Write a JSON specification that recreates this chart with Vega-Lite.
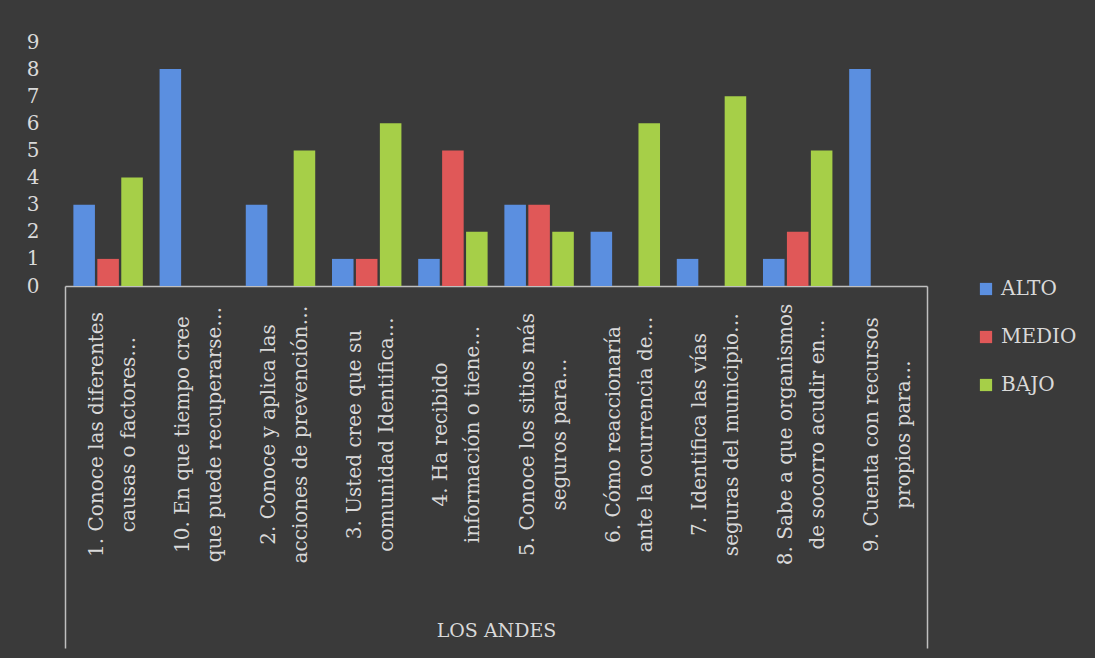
{
  "$schema": "https://vega.github.io/schema/vega-lite/v6.json",
  "autosize": {"type": "none"},
  "width": 862,
  "height": 244,
  "padding": {"left": 65, "top": 42, "right": 168, "bottom": 372},
  "background": "#3a3a3a",
  "config": {
    "view": {"stroke": null},
    "font": "DejaVu Serif"
  },
  "data": {
    "values": [
      {"pregunta": "1. Conoce las diferentes\ncausas o factores…", "nivel": "ALTO", "valor": 3},
      {"pregunta": "1. Conoce las diferentes\ncausas o factores…", "nivel": "MEDIO", "valor": 1},
      {"pregunta": "1. Conoce las diferentes\ncausas o factores…", "nivel": "BAJO", "valor": 4},
      {"pregunta": "10. En que tiempo cree\nque puede recuperarse…", "nivel": "ALTO", "valor": 8},
      {"pregunta": "10. En que tiempo cree\nque puede recuperarse…", "nivel": "MEDIO", "valor": 0},
      {"pregunta": "10. En que tiempo cree\nque puede recuperarse…", "nivel": "BAJO", "valor": 0},
      {"pregunta": "2. Conoce y aplica las\nacciones de prevención…", "nivel": "ALTO", "valor": 3},
      {"pregunta": "2. Conoce y aplica las\nacciones de prevención…", "nivel": "MEDIO", "valor": 0},
      {"pregunta": "2. Conoce y aplica las\nacciones de prevención…", "nivel": "BAJO", "valor": 5},
      {"pregunta": "3. Usted cree que su\ncomunidad Identifica…", "nivel": "ALTO", "valor": 1},
      {"pregunta": "3. Usted cree que su\ncomunidad Identifica…", "nivel": "MEDIO", "valor": 1},
      {"pregunta": "3. Usted cree que su\ncomunidad Identifica…", "nivel": "BAJO", "valor": 6},
      {"pregunta": "4. Ha recibido\ninformación o tiene…", "nivel": "ALTO", "valor": 1},
      {"pregunta": "4. Ha recibido\ninformación o tiene…", "nivel": "MEDIO", "valor": 5},
      {"pregunta": "4. Ha recibido\ninformación o tiene…", "nivel": "BAJO", "valor": 2},
      {"pregunta": "5. Conoce los sitios más\nseguros  para…", "nivel": "ALTO", "valor": 3},
      {"pregunta": "5. Conoce los sitios más\nseguros  para…", "nivel": "MEDIO", "valor": 3},
      {"pregunta": "5. Conoce los sitios más\nseguros  para…", "nivel": "BAJO", "valor": 2},
      {"pregunta": "6. Cómo reaccionaría\nante la ocurrencia de…", "nivel": "ALTO", "valor": 2},
      {"pregunta": "6. Cómo reaccionaría\nante la ocurrencia de…", "nivel": "MEDIO", "valor": 0},
      {"pregunta": "6. Cómo reaccionaría\nante la ocurrencia de…", "nivel": "BAJO", "valor": 6},
      {"pregunta": "7. Identifica las vías\nseguras del municipio…", "nivel": "ALTO", "valor": 1},
      {"pregunta": "7. Identifica las vías\nseguras del municipio…", "nivel": "MEDIO", "valor": 0},
      {"pregunta": "7. Identifica las vías\nseguras del municipio…", "nivel": "BAJO", "valor": 7},
      {"pregunta": "8. Sabe a que organismos\nde socorro acudir en…", "nivel": "ALTO", "valor": 1},
      {"pregunta": "8. Sabe a que organismos\nde socorro acudir en…", "nivel": "MEDIO", "valor": 2},
      {"pregunta": "8. Sabe a que organismos\nde socorro acudir en…", "nivel": "BAJO", "valor": 5},
      {"pregunta": "9. Cuenta con recursos\npropios para…", "nivel": "ALTO", "valor": 8},
      {"pregunta": "9. Cuenta con recursos\npropios para…", "nivel": "MEDIO", "valor": 0},
      {"pregunta": "9. Cuenta con recursos\npropios para…", "nivel": "BAJO", "valor": 0}
    ]
  },
  "mark": {"type": "bar"},
  "encoding": {
    "x": {
      "field": "pregunta",
      "type": "nominal",
      "sort": null,
      "scale": {"paddingInner": 0, "paddingOuter": 0},
      "axis": {
        "title": "LOS ANDES",
        "titleFont": "DejaVu Serif",
        "titleFontSize": 19,
        "titleFontWeight": "normal",
        "titleColor": "#d9d9d9",
        "titleY": 344,
        "titleBaseline": "middle",
        "labelExpr": "split(datum.label, '\\n')",
        "labelAngle": -90,
        "labelAlign": "center",
        "labelBaseline": "middle",
        "labelPadding": -214,
        "labelOffset": -12,
        "labelLineHeight": 32,
        "labelFontSize": 20,
        "labelColor": "#d9d9d9",
        "labelLimit": 400,
        "labelOverlap": false,
        "domainColor": "#bfbfbf",
        "domainWidth": 1.5,
        "tickBand": "extent",
        "tickSize": 362,
        "tickWidth": 1.5,
        "tickColor": "#bfbfbf",
        "tickOpacity": {"condition": {"test": "datum.index === 1 || datum.index === -1", "value": 1}, "value": 0}
      }
    },
    "xOffset": {
      "field": "nivel",
      "type": "nominal",
      "sort": ["ALTO", "MEDIO", "BAJO"],
      "scale": {"paddingInner": 0.1, "paddingOuter": 0.35}
    },
    "y": {
      "field": "valor",
      "type": "quantitative",
      "scale": {"domain": [0, 9], "nice": false},
      "axis": {
        "title": null,
        "values": [0, 1, 2, 3, 4, 5, 6, 7, 8, 9],
        "grid": false,
        "domain": false,
        "ticks": false,
        "labelPadding": 26,
        "labelFontSize": 20,
        "labelColor": "#d9d9d9",
        "labelBaseline": "middle"
      }
    },
    "color": {
      "field": "nivel",
      "type": "nominal",
      "sort": ["ALTO", "MEDIO", "BAJO"],
      "scale": {"domain": ["ALTO", "MEDIO", "BAJO"], "range": ["#5b8fe0", "#e05858", "#a6cf48"]},
      "legend": {
        "title": null,
        "orient": "none",
        "legendX": 911,
        "legendY": 237,
        "symbolType": "square",
        "symbolSize": 150,
        "symbolStrokeWidth": 0,
        "labelFontSize": 20,
        "labelColor": "#d9d9d9",
        "labelOffset": 5,
        "rowPadding": 28
      }
    }
  }
}
